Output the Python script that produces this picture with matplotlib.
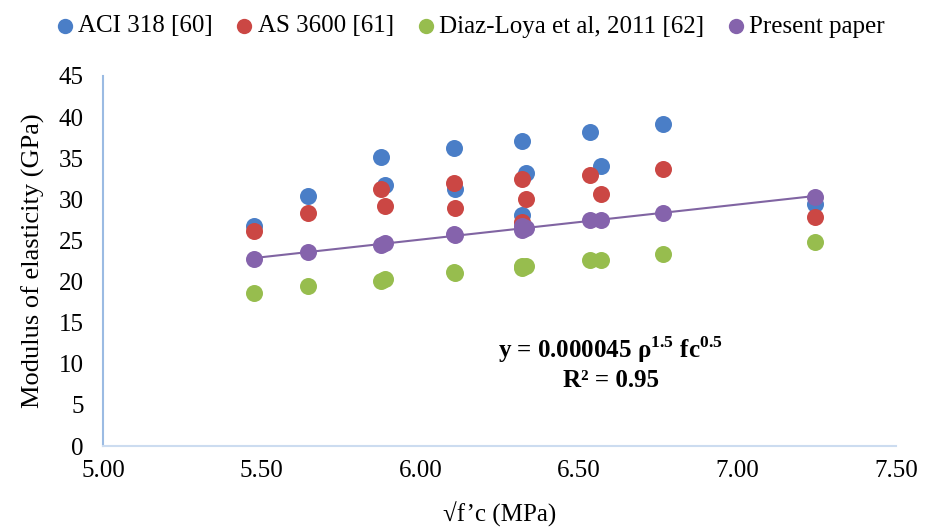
import numpy as np
import matplotlib
matplotlib.use("Agg")
import matplotlib.pyplot as plt

plt.rcParams["font.family"] = ["Liberation Serif", "DejaVu Serif"]
plt.rcParams["mathtext.fontset"] = "custom"
plt.rcParams["mathtext.rm"] = "Liberation Serif:bold"
plt.rcParams["mathtext.bf"] = "Liberation Serif:bold"

# sqrt(f'c) in MPa, shared by all series
sqrt_fc = [5.474, 5.646, 5.875, 5.887, 6.107, 6.110, 6.320, 6.332, 6.322,
           6.536, 6.570, 6.766, 7.244]
aci = [26.8, 30.4, 35.15, 31.7, 36.2, 31.3, 37.1, 33.15, 28.1,
       38.15, 34.1, 39.15, 29.4]
as3600 = [26.15, 28.3, 31.25, 29.2, 31.95, 29.0, 32.5, 30.0, 27.2,
          33.0, 30.6, 33.7, 27.8]
diaz = [18.65, 19.4, 20.07, 20.35, 21.2, 21.1, 21.9, 21.9, 21.7,
        22.6, 22.6, 23.3, 24.85]
present = [22.7, 23.6, 24.4, 24.7, 25.75, 25.6, 26.7, 26.5, 26.3,
           27.5, 27.5, 28.3, 30.3]

labels = ["ACI 318 [60]", "AS 3600 [61]", "Diaz-Loya et al, 2011 [62]", "Present paper"]
colors = ["#4A7EC7", "#CB4744", "#97BD4E", "#8563AC"]

fig = plt.figure(figsize=(9.33, 5.31), dpi=100)
ax = fig.add_axes([0.1107, 0.160, 0.8496, 0.697])

for vals, lab, c in zip([aci, as3600, diaz, present], labels, colors):
    ax.scatter(sqrt_fc, vals, s=150, color=c, label=lab, zorder=3, linewidths=0)

# linear trendline through the present-paper points
x = np.array(sqrt_fc)
k, b = np.polyfit(x, present, 1)
xs = np.array([x.min(), x.max()])
ax.plot(xs, k * xs + b, color="#8064A2", lw=1.5, zorder=2)

ax.set_xlim(5.0, 7.5)
ax.set_ylim(0, 45)
ax.set_xticks(np.arange(5.0, 7.51, 0.5))
ax.set_xticklabels([f"{v:.2f}" for v in np.arange(5.0, 7.51, 0.5)])
ax.set_yticks(np.arange(0, 46, 5))
ax.tick_params(length=0, labelsize=18)
ax.tick_params(axis="x", pad=10)
ax.tick_params(axis="y", pad=14)

for s in ["top", "right"]:
    ax.spines[s].set_visible(False)
ax.spines["left"].set_color("#9BBBE3")
ax.spines["bottom"].set_color("#CCDCF0")
ax.spines["left"].set_linewidth(1.5)
ax.spines["bottom"].set_linewidth(1.5)

ax.set_xlabel("√f’c (MPa)", fontsize=18, labelpad=14)
ax.set_ylabel("Modulus of elasticity (GPa)", fontsize=19, labelpad=10)

ax.text(6.60, 11.7, r"y = 0.000045 ρ$^{1.5}$ fc$^{0.5}$", fontsize=18,
        fontweight="bold", ha="center", va="center")
ax.text(6.60, 8.0, "R² = 0.95", fontsize=18, fontweight="bold",
        ha="center", va="center")

fig.legend(loc="upper center", bbox_to_anchor=(0.505, 1.0), ncol=4, frameon=False,
           fontsize=18, handlelength=0.6, handletextpad=0.25, columnspacing=0.95,
           scatterpoints=1, markerscale=0.9, borderaxespad=0.2)

fig.savefig("out.png", dpi=100)
